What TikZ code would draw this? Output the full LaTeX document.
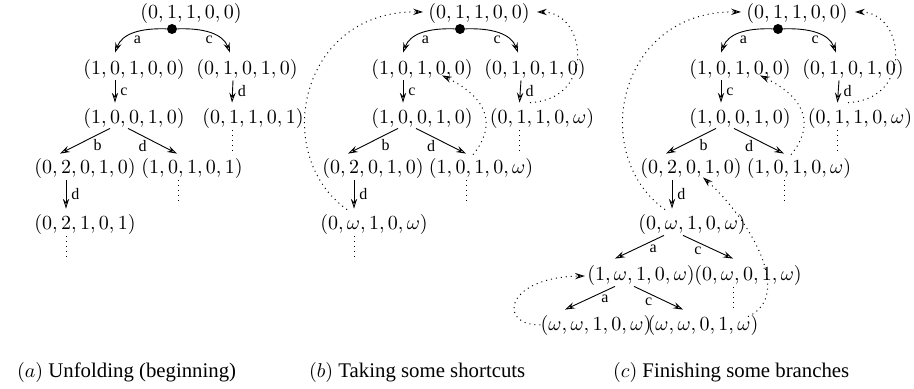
\documentclass[tikz,border=0pt]{standalone}
\usepackage{amsmath}
\usepackage[no-math]{fontspec}
\setmainfont{Liberation Serif}
\usepackage{tikz}
\usetikzlibrary{arrows, arrows.meta, calc}

\tikzset{
  conf/.style={inner sep=0pt, text height=7.5pt, text depth=2.5pt},
  fork/.style={circle, fill=black, inner sep=0pt, minimum size=5pt},
  tr/.style={-{Stealth[open, length=5pt, width=3.2pt, inset=1.8pt]}, line width=0.45pt},
  shortcut/.style={dotted, line width=0.5pt, -{Stealth[open, length=5pt, width=3.2pt, inset=1.8pt]}},
  cont/.style={dotted, line width=0.5pt},
  lab/.style={font=\footnotesize, inner sep=1pt},
  capt/.style={anchor=base west, font=\fontsize{10.4}{13}\selectfont}
}

\begin{document}
\begin{tikzpicture}[x=0.5pt, y=-0.5pt]
\useasboundingbox (0,0) rectangle (914,389);

% (a) unfolding
\node[conf] (a0) at (191,14) {$(0,1,1,0,0)$};
\node[fork] (a00) at (172,29) {};
\node[conf] (a1) at (134,70) {$(1,0,1,0,0)$};
\node[conf] (a2) at (247,70) {$(0,1,0,1,0)$};
\node[conf] (a3) at (134,119) {$(1,0,0,1,0)$};
\node[conf] (a4) at (253,119) {$(0,1,1,0,1)$};
\node[conf] (a5) at (85,169) {$(0,2,0,1,0)$};
\node[conf] (a6) at (192,169) {$(1,0,1,0,1)$};
\node[conf] (a7) at (85,225) {$(0,2,1,0,1)$};
\draw[tr] (a00) .. controls +(-32,-1) and +(7,-19) .. ($(a1.north)+(-19,-7)$) node[lab,midway,anchor=north,xshift=2pt]{a};
\draw[tr] (a00) .. controls +(32,-1) and +(-7,-19) .. ($(a2.north)+(-17,-7)$) node[lab,midway,anchor=north,xshift=-1pt]{c};
\draw[tr] ($(a1.south)+(-19,0)$) -- ($(a3.north)+(-19,-6)$) node[lab,midway,right=1.5pt]{c};
\draw[tr] ($(a2.south)+(-14,0)$) -- ($(a4.north west)+(30,-6)$) node[lab,midway,right=1.5pt]{d};
\draw[tr] ($(a3.south)+(-24,-1)$) -- ($(a5.north)+(-25,-5)$) node[lab,pos=0.25,below=1pt]{b};
\draw[tr] ($(a3.south)+(-6,-1)$) -- ($(a6.north)+(-15,-5)$) node[lab,pos=0.3,below=1pt]{d};
\draw[tr] ($(a5.south)+(-19,1)$) -- ($(a7.north)+(-19,-6)$) node[lab,midway,right=1.5pt]{d};
\draw[cont] ($(a4.south west)+(30,1)$) -- +(0,22);
\draw[cont] ($(a6.south)+(-14,1)$) -- +(0,22);
\draw[cont] ($(a7.south)+(-19,1)$) -- +(0,22);

% (b) shortcuts
\begin{scope}[shift={(288,0)}]
\node[conf] (b0) at (191,14) {$(0,1,1,0,0)$};
\node[fork] (b00) at (172,29) {};
\node[conf] (b1) at (134,70) {$(1,0,1,0,0)$};
\node[conf] (b2) at (247,70) {$(0,1,0,1,0)$};
\node[conf] (b3) at (134,119) {$(1,0,0,1,0)$};
\node[conf] (b4) at (254,119) {$(0,1,1,0,\omega)$};
\node[conf] (b5) at (85,169) {$(0,2,0,1,0)$};
\node[conf] (b6) at (193,169) {$(1,0,1,0,\omega)$};
\node[conf] (b7) at (86,225) {$(0,\omega,1,0,\omega)$};
\draw[tr] (b00) .. controls +(-32,-1) and +(7,-19) .. ($(b1.north)+(-19,-7)$) node[lab,midway,anchor=north,xshift=2pt]{a};
\draw[tr] (b00) .. controls +(32,-1) and +(-7,-19) .. ($(b2.north)+(-17,-7)$) node[lab,midway,anchor=north,xshift=-1pt]{c};
\draw[tr] ($(b1.south)+(-19,0)$) -- ($(b3.north)+(-19,-6)$) node[lab,midway,right=1.5pt]{c};
\draw[tr] ($(b2.south)+(-14,0)$) -- ($(b4.north west)+(30,-6)$) node[lab,midway,right=1.5pt]{d};
\draw[tr] ($(b3.south)+(-24,-1)$) -- ($(b5.north)+(-25,-5)$) node[lab,pos=0.25,below=1pt]{b};
\draw[tr] ($(b3.south)+(-6,-1)$) -- ($(b6.north)+(-15,-5)$) node[lab,pos=0.3,below=1pt]{d};
\draw[tr] ($(b5.south)+(-19,1)$) -- ($(b7.north)+(-20,-6)$) node[lab,midway,right=1.5pt]{d};
\draw[cont] ($(b4.south west)+(30,1)$) -- +(0,22);
\draw[cont] ($(b6.south)+(-15,1)$) -- +(0,22);
\draw[cont] ($(b7.south)+(-20,1)$) -- +(0,22);
\draw[shortcut] ($(b7.north)+(-27,-5)$) .. controls +(-77,-55) and +(-123,-2) .. ($(b0.west)+(-5,-2)$);
\draw[shortcut] ($(b6.north)+(-8,-4)$) .. controls +(21,-25) and +(51,25) .. ($(b1.south)+(20,-5)$);
\draw[shortcut] ($(b4.north)+(-12,-6)$) .. controls +(66,-3) and +(50,0) .. ($(b0.east)+(7,-2)$);
\end{scope}

% (c) finished branches
\begin{scope}[shift={(606,0)}]
\node[conf] (c0) at (191,14) {$(0,1,1,0,0)$};
\node[fork] (c00) at (172,29) {};
\node[conf] (c1) at (134,70) {$(1,0,1,0,0)$};
\node[conf] (c2) at (247,70) {$(0,1,0,1,0)$};
\node[conf] (c3) at (134,119) {$(1,0,0,1,0)$};
\node[conf] (c4) at (254,119) {$(0,1,1,0,\omega)$};
\node[conf] (c5) at (85,169) {$(0,2,0,1,0)$};
\node[conf] (c6) at (193,169) {$(1,0,1,0,\omega)$};
\node[conf] (c7) at (86,225) {$(0,\omega,1,0,\omega)$};
\node[conf] (c8) at (35,276) {$(1,\omega,1,0,\omega)$};
\node[conf] (c9) at (142,276) {$(0,\omega,0,1,\omega)$};
\node[conf] (c10) at (-10,325) {$(\omega,\omega,1,0,\omega)$};
\node[conf] (c11) at (97,325) {$(\omega,\omega,0,1,\omega)$};
\draw[tr] (c00) .. controls +(-32,-1) and +(7,-19) .. ($(c1.north)+(-19,-7)$) node[lab,midway,anchor=north,xshift=2pt]{a};
\draw[tr] (c00) .. controls +(32,-1) and +(-7,-19) .. ($(c2.north)+(-17,-7)$) node[lab,midway,anchor=north,xshift=-1pt]{c};
\draw[tr] ($(c1.south)+(-19,0)$) -- ($(c3.north)+(-19,-6)$) node[lab,midway,right=1.5pt]{c};
\draw[tr] ($(c2.south)+(-14,0)$) -- ($(c4.north west)+(30,-6)$) node[lab,midway,right=1.5pt]{d};
\draw[tr] ($(c3.south)+(-24,-1)$) -- ($(c5.north)+(-25,-5)$) node[lab,pos=0.25,below=1pt]{b};
\draw[tr] ($(c3.south)+(-6,-1)$) -- ($(c6.north)+(-15,-5)$) node[lab,pos=0.3,below=1pt]{d};
\draw[tr] ($(c5.south)+(-19,1)$) -- ($(c7.north)+(-20,-6)$) node[lab,midway,right=1.5pt]{d};
\draw[tr] ($(c7.south)+(-28,0)$) -- ($(c8.north)+(-26,-7)$) node[lab,pos=0.22,below=1pt]{a};
\draw[tr] ($(c7.south)+(-9,0)$) -- ($(c9.north)+(-15,-7)$) node[lab,pos=0.3,below=1pt]{c};
\draw[tr] ($(c8.south)+(-26,0)$) -- ($(c10.north)+(-31,-5)$) node[lab,pos=0.2,below=1pt]{a};
\draw[tr] ($(c8.south)+(-7,0)$) -- ($(c11.north)+(-20,-5)$) node[lab,pos=0.3,below=1pt]{c};
\draw[cont] ($(c4.south west)+(30,1)$) -- +(0,22);
\draw[cont] ($(c6.south)+(-15,1)$) -- +(0,22);
\draw[cont] ($(c9.south)+(-15,1)$) -- +(0,23);
\draw[shortcut] ($(c7.north)+(-27,-5)$) .. controls +(-77,-55) and +(-123,-2) .. ($(c0.west)+(-5,-2)$);
\draw[shortcut] ($(c6.north)+(-8,-4)$) .. controls +(21,-25) and +(51,25) .. ($(c1.south)+(20,-5)$);
\draw[shortcut] ($(c4.north)+(-12,-6)$) .. controls +(66,-3) and +(50,0) .. ($(c0.east)+(7,-2)$);
\draw[shortcut] (c10.west) .. controls +(-44,0) and +(-79,1) .. ($(c8.west)+(-2,0)$);
\draw[shortcut] ($(c11.north)+(45,2)$) .. controls +(48,-22) and +(43,38) .. ($(c5.south)+(12,-2)$);
\end{scope}

% captions
\node[capt] (capa) at (10,377) {$(a)$ Unfolding (beginning)};
\node[capt] (capb) at (302,377) {$(b)$ Taking some shortcuts};
\node[capt] (capc) at (606,377) {$(c)$ Finishing some branches};
\end{tikzpicture}
\end{document}
